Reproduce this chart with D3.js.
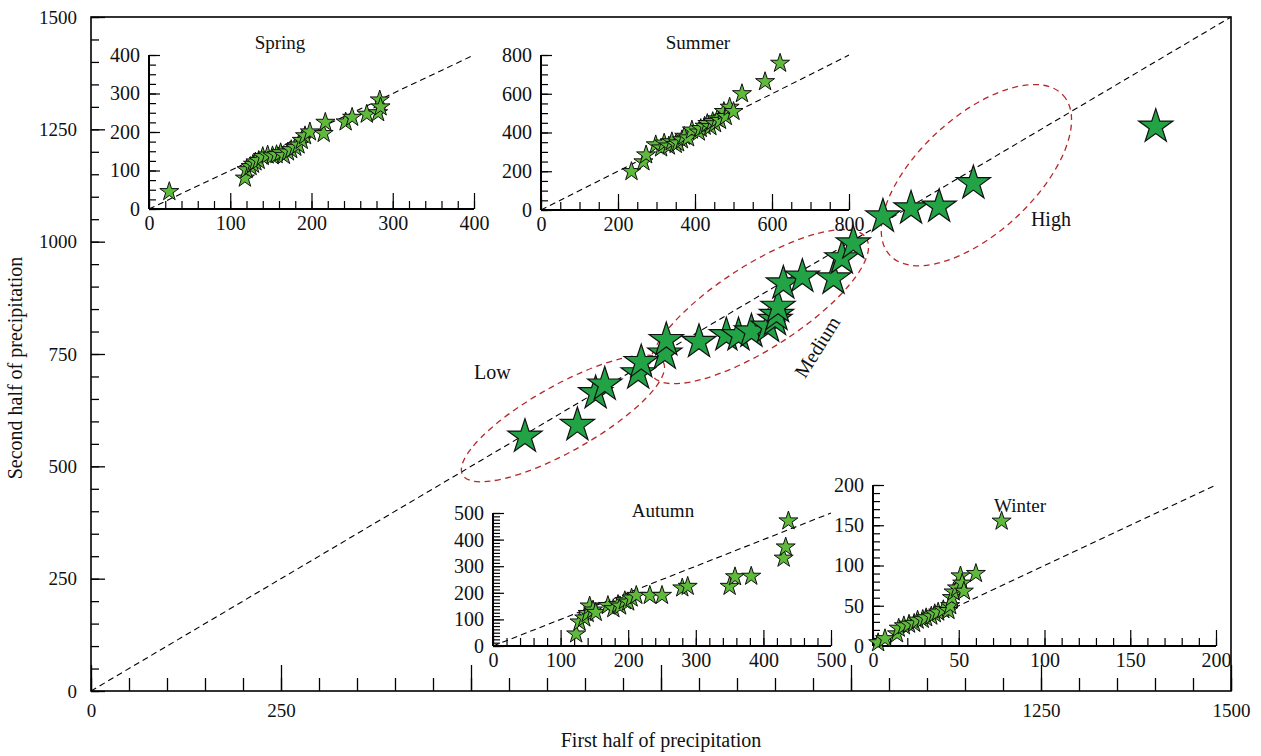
<!DOCTYPE html>
<html>
<head>
<meta charset="utf-8">
<script src="https://cdn.jsdelivr.net/npm/d3@7"></script>
<style>
  html, body { margin: 0; padding: 0; background: #fff; }
  svg { display: block; font-family: "Liberation Serif", "DejaVu Serif", serif; }
  .tick text { font-family: "Liberation Serif", serif; }
</style>
</head>
<body>
<svg id="chart" width="1261" height="756"></svg>
<script>
// ---------- DATA ----------
const mainX = [571,640,664,676,720,724,755,757,800,836,852,869,891,900,902,904,911,936,977,988,1003,1042,1079,1116,1161,1401];
const mainY = [566,592,663,682,707,732,751,781,777,792,792,800,811,826,837,855,907,922,918,963,996,1056,1074,1078,1130,1256];

const springX = [25,118,120,125,128,131,135,140,146,152,157,162,166,171,175,180,184,188,192,198,215,217,242,250,268,282,284,285];
const springY = [45,80,102,110,116,122,126,136,140,138,141,146,139,148,154,160,166,178,190,200,196,225,226,238,246,250,283,265];

const summerX = [235,266,273,298,312,320,332,340,350,356,366,372,382,392,410,415,425,432,440,446,452,458,465,475,480,490,500,522,582,621];
const summerY = [198,248,284,336,320,345,330,352,338,346,362,380,372,412,402,420,432,446,430,456,445,470,462,508,482,530,508,600,662,757];

const autumnX = [123,128,135,140,143,148,152,170,178,185,188,195,200,205,212,232,250,280,288,350,358,382,430,433,437];
const autumnY = [45,90,105,122,150,135,126,152,140,156,150,170,165,180,190,190,190,218,224,224,260,262,330,372,470];

const winterX = [3,7,14,15,18,21,24,26,29,31,34,36,38,41,44,45,46,47,49,51,52,53,60,75];
const winterY = [4,9,15,22,25,27,28,32,33,35,37,40,42,45,44,50,60,67,72,87,78,68,90,155];

const mainTickLabels = [0, 250, 1250, 1500];
const mainYTickLabels = [0, 250, 500, 750, 1000, 1250, 1500];
const seasonNames = ["Spring", "Summer", "Autumn", "Winter"];
const groupNames = ["Low", "Medium", "High"];
// group ellipses: major-axis end points in data units
const groupEllipseX1 = [489, 738, 1051];
const groupEllipseY1 = [481, 703, 970];
const groupEllipseX2 = [753, 1020, 1279];
const groupEllipseY2 = [732, 1008, 1326];
const groupLabelX = [528, 958, 1263];
const groupLabelY = [705, 763, 1044];
const xTitle = "First half of precipitation";
const yTitle = "Second half of precipitation";

// ---------- DRAW ----------
const svg = d3.select("#chart");
svg.append("rect").attr("width", 1261).attr("height", 756).attr("fill", "#fff");

const FONT = 19;
const fmt = d3.format("d");
const x = d3.scaleLinear().domain([0, 1500]).range([91, 1231]);
const y = d3.scaleLinear().domain([0, 1500]).range([691, 17]);

const gMain = svg.append("g");

function styleAxis(g) {
  g.select(".domain").remove();
  g.selectAll(".tick line").attr("stroke", "#000").attr("stroke-width", 1.3);
  g.selectAll(".tick text").attr("font-size", FONT).attr("fill", "#111");
}

// minor ticks
gMain.append("g").attr("transform", `translate(0,${y(0)})`)
  .call(d3.axisBottom(x).tickValues(d3.range(0, 1501, 50)).tickSize(-13).tickFormat(""))
  .call(styleAxis);
gMain.append("g").attr("transform", `translate(0,${y(0)})`)
  .call(d3.axisBottom(x).tickValues(d3.range(0, 1501, 250)).tickSize(-26)
    .tickFormat(d => mainTickLabels.includes(d) ? fmt(d) : "").tickPadding(13))
  .call(styleAxis);
gMain.append("g").attr("transform", `translate(${x(0)},0)`)
  .call(d3.axisLeft(y).tickValues(d3.range(0, 1501, 50)).tickSize(-8).tickFormat(""))
  .call(styleAxis);
gMain.append("g").attr("transform", `translate(${x(0)},0)`)
  .call(d3.axisLeft(y).tickValues(mainYTickLabels).tickSize(-14).tickPadding(14).tickFormat(fmt))
  .call(styleAxis);

// frame
gMain.append("rect")
  .attr("x", x(0)).attr("y", y(1500))
  .attr("width", x(1500) - x(0)).attr("height", y(0) - y(1500))
  .attr("fill", "none").attr("stroke", "#000").attr("stroke-width", 1.6);

// diagonal
gMain.append("line")
  .attr("x1", x(0)).attr("y1", y(0)).attr("x2", x(1500)).attr("y2", y(1500))
  .attr("stroke", "#000").attr("stroke-width", 1.1).attr("stroke-dasharray", "6,4");

// ellipses
const ellB = [33, 42, 58];
groupNames.forEach((name, i) => {
  const px1 = x(groupEllipseX1[i]), py1 = y(groupEllipseY1[i]);
  const px2 = x(groupEllipseX2[i]), py2 = y(groupEllipseY2[i]);
  const cx = (px1 + px2) / 2, cy = (py1 + py2) / 2;
  const a = Math.hypot(px2 - px1, py2 - py1) / 2;
  const ang = Math.atan2(py2 - py1, px2 - px1) * 180 / Math.PI;
  gMain.append("ellipse")
    .attr("cx", 0).attr("cy", 0).attr("rx", a).attr("ry", ellB[i])
    .attr("transform", `translate(${cx},${cy}) rotate(${ang})`)
    .attr("fill", "none").attr("stroke", "#b8282b").attr("stroke-width", 1.3)
    .attr("stroke-dasharray", "6,4.5");
});

// group labels
groupNames.forEach((name, i) => {
  const t = gMain.append("text")
    .attr("font-size", 20).attr("fill", "#111")
    .attr("text-anchor", "middle").attr("dominant-baseline", "middle")
    .text(name);
  if (name === "Medium") {
    t.attr("transform", `translate(${x(groupLabelX[i])},${y(groupLabelY[i])}) rotate(-58)`);
  } else {
    t.attr("x", x(groupLabelX[i])).attr("y", y(groupLabelY[i]));
  }
});

// axis titles
svg.append("text").attr("x", 661).attr("y", 747).attr("text-anchor", "middle")
  .attr("font-size", 20).attr("fill", "#111").text(xTitle);
svg.append("text").attr("transform", "translate(22,368) rotate(-90)")
  .attr("text-anchor", "middle").attr("font-size", 20).attr("fill", "#111").text(yTitle);

// ---------- INSETS ----------
const insets = [
  { name: seasonNames[0], xs: springX, ys: springY, max: 400, px: [149, 474], py: [209, 55],
    xMinor: 20, xMajor: 100, yMinor: 25, yMajor: 100, title: [280, 45] },
  { name: seasonNames[1], xs: summerX, ys: summerY, max: 800, px: [541, 849], py: [210, 55],
    xMinor: 50, xMajor: 200, yMinor: 50, yMajor: 200, title: [698, 45] },
  { name: seasonNames[2], xs: autumnX, ys: autumnY, max: 500, px: [493, 831], py: [646, 513],
    xMinor: 20, xMajor: 100, yMinor: 12.5, yMajor: 100, title: [663, 513] },
  { name: seasonNames[3], xs: winterX, ys: winterY, max: 200, px: [873, 1216], py: [646, 485],
    xMinor: 10, xMajor: 50, yMinor: 10, yMajor: 50, title: [1020, 508] }
];

const starSmall = d3.symbol().type(d3.symbolStar).size(112);

insets.forEach(cfg => {
  const g = svg.append("g");
  const ix = d3.scaleLinear().domain([0, cfg.max]).range(cfg.px);
  const iy = d3.scaleLinear().domain([0, cfg.max]).range(cfg.py);

  const axStyle = gg => {
    gg.select(".domain").remove();
    gg.selectAll(".tick line").attr("stroke", "#000").attr("stroke-width", 1.2);
    gg.selectAll(".tick text").attr("font-size", 20).attr("fill", "#111");
  };
  g.append("g").attr("transform", `translate(0,${iy(0)})`)
    .call(d3.axisBottom(ix).tickValues(d3.range(0, cfg.max + 1e-6, cfg.xMinor)).tickSize(-8).tickFormat(""))
    .call(axStyle);
  g.append("g").attr("transform", `translate(0,${iy(0)})`)
    .call(d3.axisBottom(ix).tickValues(d3.range(0, cfg.max + 1e-6, cfg.xMajor)).tickSize(-16).tickPadding(7).tickFormat(fmt))
    .call(axStyle);
  g.append("g").attr("transform", `translate(${ix(0)},0)`)
    .call(d3.axisLeft(iy).tickValues(d3.range(0, cfg.max + 1e-6, cfg.yMinor)).tickSize(-7).tickFormat(""))
    .call(axStyle);
  g.append("g").attr("transform", `translate(${ix(0)},0)`)
    .call(d3.axisLeft(iy).tickValues(d3.range(0, cfg.max + 1e-6, cfg.yMajor)).tickSize(-11).tickPadding(9).tickFormat(fmt))
    .call(axStyle);

  // axis lines
  g.append("line").attr("x1", ix(0)).attr("x2", ix(cfg.max)).attr("y1", iy(0)).attr("y2", iy(0))
    .attr("stroke", "#000").attr("stroke-width", 2);
  g.append("line").attr("x1", ix(0)).attr("x2", ix(0)).attr("y1", iy(0)).attr("y2", iy(cfg.max))
    .attr("stroke", "#000").attr("stroke-width", 2);

  // 1:1 line
  g.append("line").attr("x1", ix(0)).attr("y1", iy(0)).attr("x2", ix(cfg.max)).attr("y2", iy(cfg.max))
    .attr("stroke", "#000").attr("stroke-width", 1.1).attr("stroke-dasharray", "6,4");

  g.append("text").attr("x", cfg.title[0]).attr("y", cfg.title[1])
    .attr("text-anchor", "middle").attr("dominant-baseline", "middle")
    .attr("font-size", 19).attr("fill", "#111").text(cfg.name);

  g.append("g").selectAll("path")
    .data(cfg.xs.map((v, i) => [v, cfg.ys[i]]))
    .join("path")
    .attr("d", starSmall)
    .attr("transform", d => `translate(${ix(d[0])},${iy(d[1])})`)
    .attr("fill", "#5fba3c").attr("stroke", "#111").attr("stroke-width", 1);
});

// main stars drawn last (on top of inset labels, as in the reference)
const starMain = d3.symbol().type(d3.symbolStar).size(364);
svg.append("g").selectAll("path")
  .data(mainX.map((v, i) => [v, mainY[i]]))
  .join("path")
  .attr("d", starMain)
  .attr("transform", d => `translate(${x(d[0])},${y(d[1])})`)
  .attr("fill", "#22a346").attr("stroke", "#111").attr("stroke-width", 1.2)
  .attr("stroke-linejoin", "miter");
</script>
</body>
</html>
